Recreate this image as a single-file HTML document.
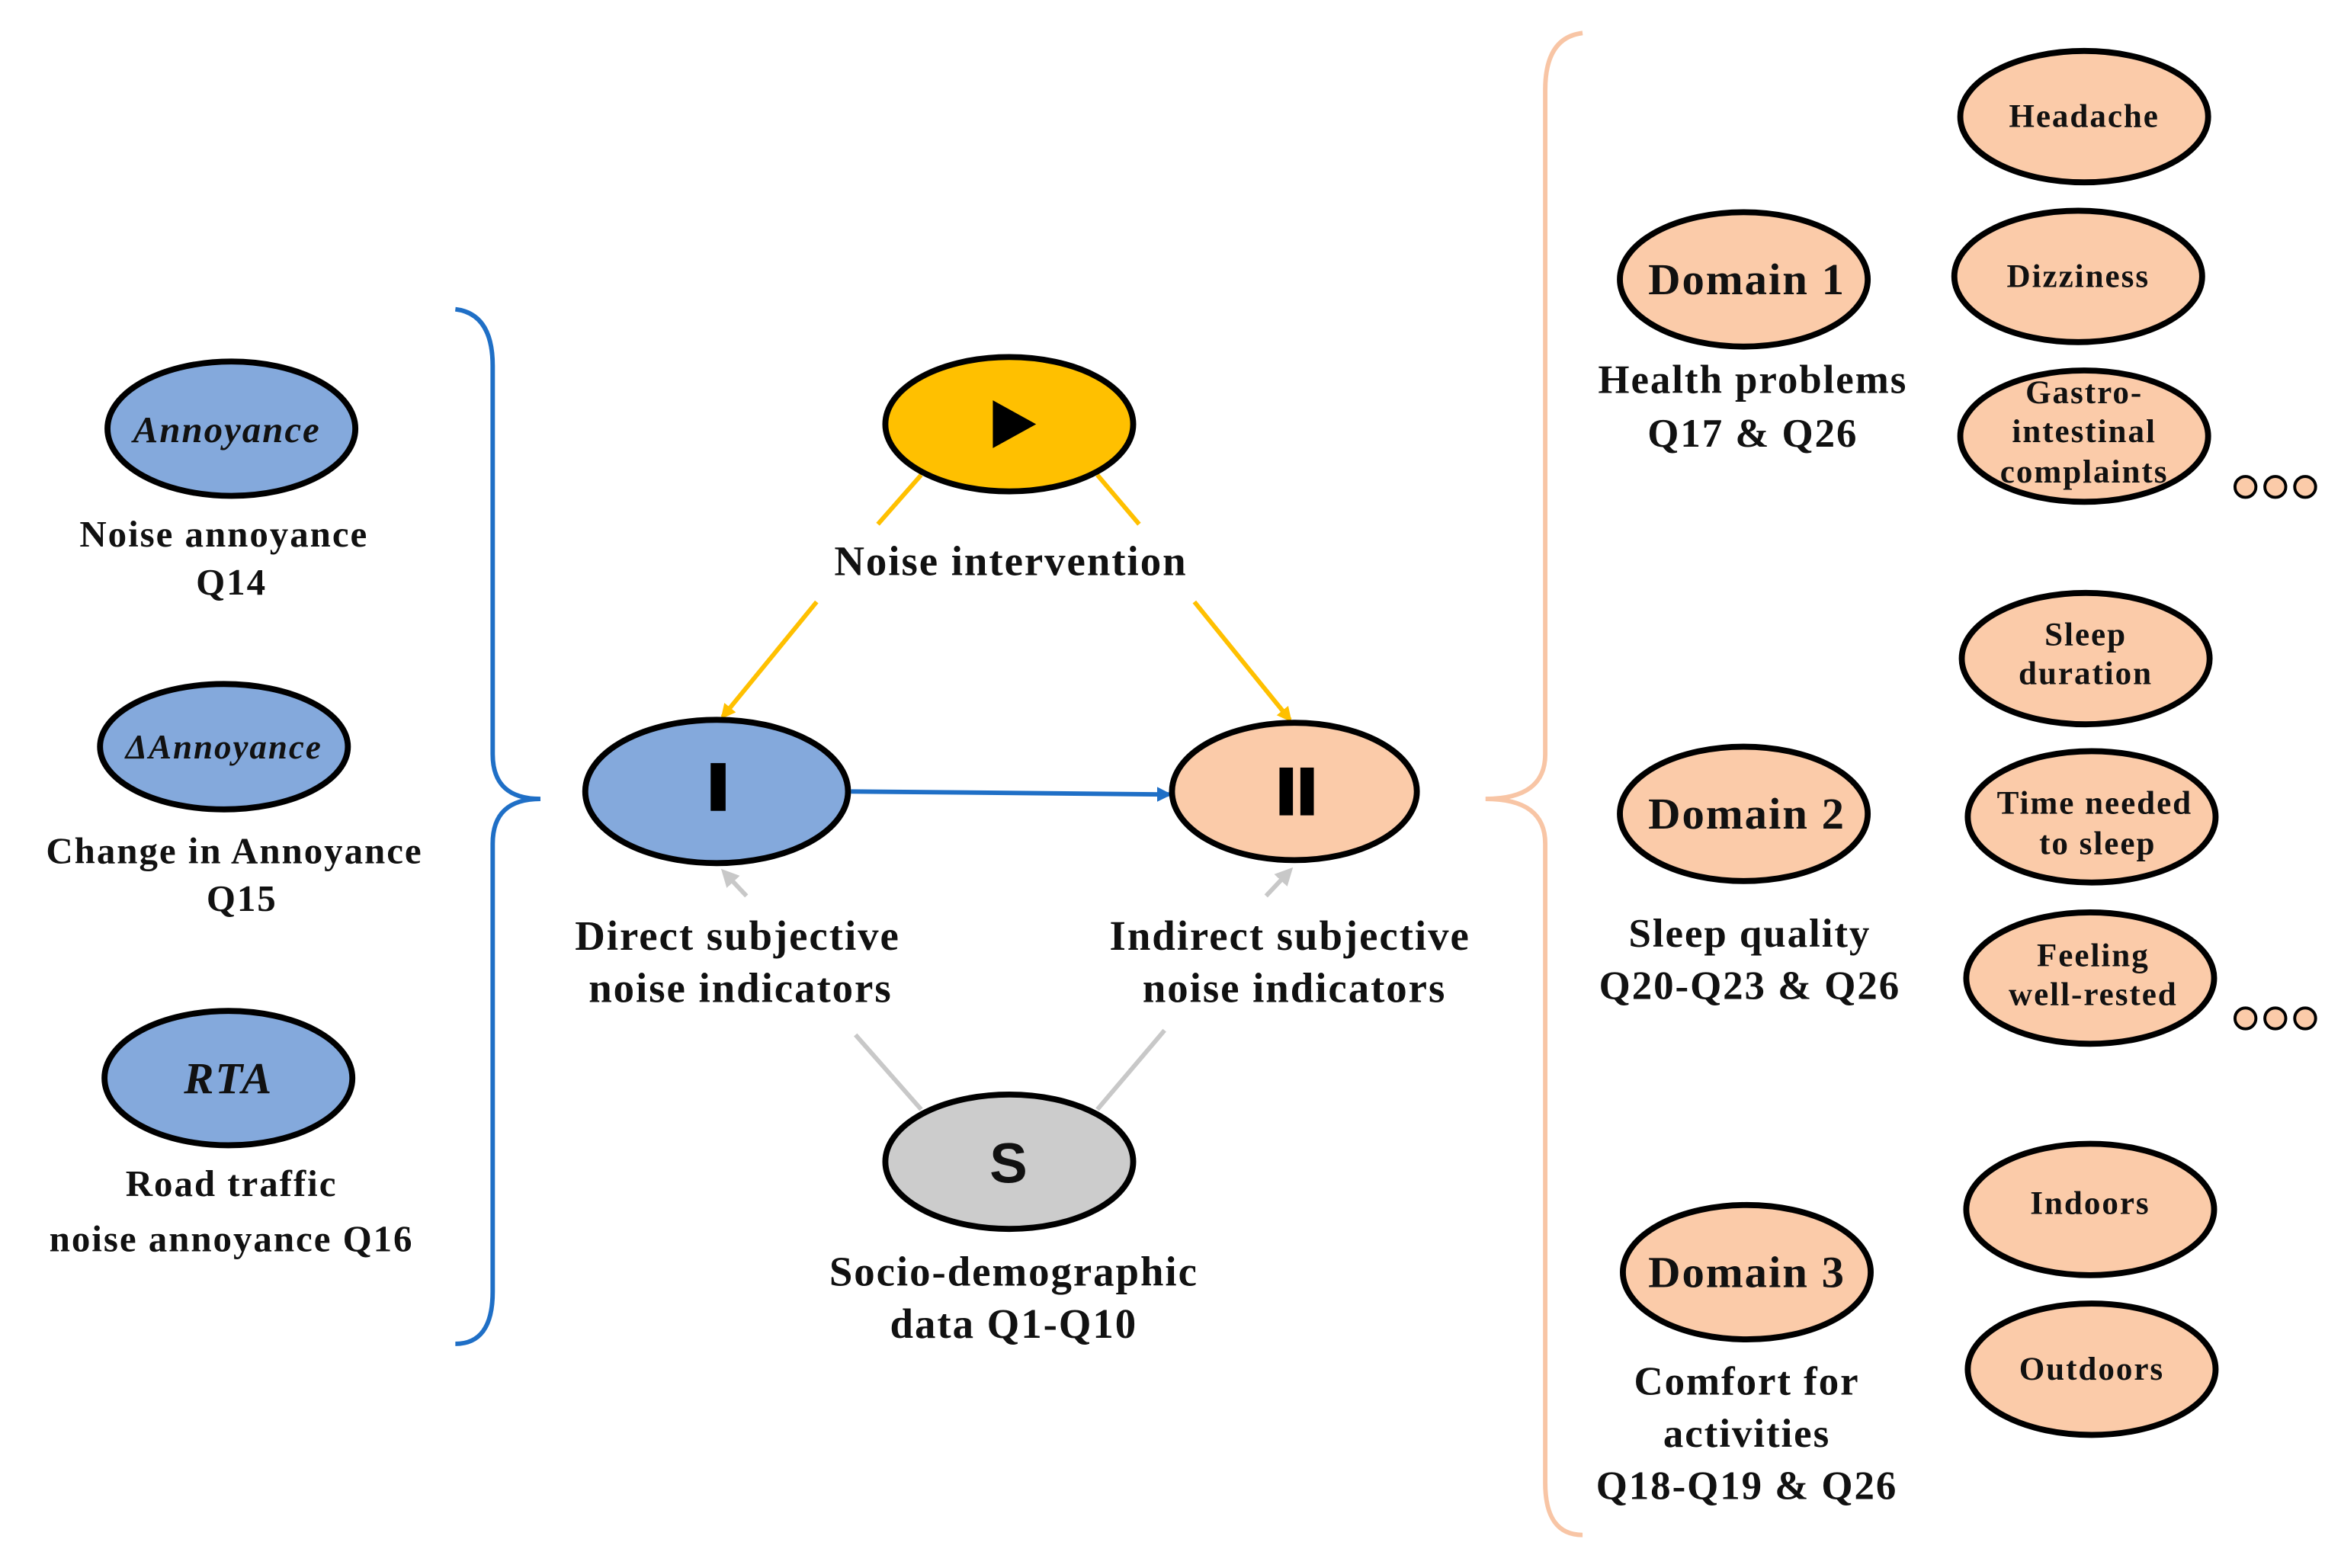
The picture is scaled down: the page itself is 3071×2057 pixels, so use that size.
<!DOCTYPE html>
<html><head><meta charset="utf-8"><style>
html,body{margin:0;padding:0;background:#fff;}
svg{display:block;}
text{font-family:"Liberation Serif",serif;font-weight:bold;fill:#111;text-anchor:middle;letter-spacing:1px;}
</style></head><body>
<svg width="3071" height="2057" viewBox="0 0 1568 1050" xmlns="http://www.w3.org/2000/svg">
<defs>
<marker id="ay" markerWidth="10" markerHeight="10" refX="8" refY="5" orient="auto" markerUnits="userSpaceOnUse"><path d="M0,0 L10,5 L0,10z" fill="#FFC000"/></marker>
<marker id="ab" markerWidth="10" markerHeight="10" refX="8" refY="5" orient="auto" markerUnits="userSpaceOnUse"><path d="M0,0 L10,5 L0,10z" fill="#1F6FC6"/></marker>
<marker id="ag" markerWidth="12" markerHeight="12" refX="9" refY="6" orient="auto" markerUnits="userSpaceOnUse"><path d="M0,0 L12,6 L0,12z" fill="#C8C8C8"/></marker>
</defs>
<g stroke="#000" stroke-width="4">
<ellipse cx="155" cy="287" rx="83" ry="45" fill="#84A9DC"/>
<ellipse cx="150" cy="500" rx="83" ry="42" fill="#84A9DC"/>
<ellipse cx="153" cy="722" rx="83" ry="45" fill="#84A9DC"/>
</g>
<text x="152" y="296" font-size="25" font-style="italic">Annoyance</text>
<text x="150" y="508" font-size="23" font-style="italic">ΔAnnoyance</text>
<text x="153" y="732" font-size="30" font-style="italic" font-weight="normal">RTA</text>
<g font-size="25">
<text x="150" y="366">Noise  annoyance</text>
<text x="155" y="398">Q14</text>
<text x="157" y="578">Change  in  Annoyance</text>
<text x="162" y="610">Q15</text>
<text x="155" y="801">Road traffic</text>
<text x="155" y="838">noise annoyance Q16</text>
</g>
<path d="M305,207 Q330,210 330,245 L330,505 Q330,535 362,535 Q330,535 330,565 L330,865 Q330,900 305,900" fill="none" stroke="#1F6FC6" stroke-width="3"/>
<g stroke="#FFC000" stroke-width="3" fill="none">
<line x1="617" y1="318" x2="588" y2="351"/>
<line x1="735" y1="318" x2="763" y2="351"/>
<line x1="547" y1="403" x2="484" y2="480" marker-end="url(#ay)"/>
<line x1="800" y1="403" x2="864" y2="482" marker-end="url(#ay)"/>
</g>
<g stroke="#C8C8C8" stroke-width="3" fill="none">
<line x1="617" y1="743" x2="573" y2="693"/>
<line x1="735" y1="743" x2="780" y2="690"/>
<line x1="500" y1="600" x2="485" y2="584" marker-end="url(#ag)"/>
<line x1="848" y1="600" x2="864" y2="583" marker-end="url(#ag)"/>
</g>
<line x1="570" y1="530" x2="783" y2="532" stroke="#1F6FC6" stroke-width="3" marker-end="url(#ab)"/>
<g stroke="#000" stroke-width="4">
<ellipse cx="676" cy="284" rx="83" ry="45" fill="#FFC000"/>
<ellipse cx="480" cy="530" rx="88" ry="48" fill="#84A9DC"/>
<ellipse cx="867" cy="530" rx="82" ry="46" fill="#FBCBA9"/>
<ellipse cx="676" cy="778" rx="83" ry="45" fill="#CCCCCC"/>
</g>
<path d="M665,268 L694,284 L665,300z" fill="#000"/>
<rect x="476" y="511" width="10" height="32" fill="#000"/>
<rect x="857" y="514" width="9" height="32" fill="#000"/>
<rect x="871" y="514" width="9" height="32" fill="#000"/>
<text x="676" y="792" font-size="38" style="font-family:'Liberation Sans',sans-serif">S</text>
<g font-size="28">
<text x="677" y="385">Noise intervention</text>
<text x="494" y="636">Direct subjective</text>
<text x="496" y="671">noise indicators</text>
<text x="864" y="636">Indirect subjective</text>
<text x="867" y="671">noise indicators</text>
<text x="679" y="861">Socio-demographic</text>
<text x="679" y="896">data Q1-Q10</text>
</g>
<path d="M1060,22 Q1035,25 1035,60 L1035,505 Q1035,535 995,535 Q1035,535 1035,565 L1035,993 Q1035,1028 1060,1028" fill="none" stroke="#F8C5A5" stroke-width="3"/>
<g stroke="#000" stroke-width="4" fill="#FBCBA9">
<ellipse cx="1168" cy="187" rx="83" ry="45"/>
<ellipse cx="1168" cy="545" rx="83" ry="45"/>
<ellipse cx="1170" cy="852" rx="83" ry="45"/>
<ellipse cx="1396" cy="78" rx="83" ry="44"/>
<ellipse cx="1392" cy="185" rx="83" ry="44"/>
<ellipse cx="1396" cy="292" rx="83" ry="44"/>
<ellipse cx="1397" cy="441" rx="83" ry="44"/>
<ellipse cx="1401" cy="547" rx="83" ry="44"/>
<ellipse cx="1400" cy="655" rx="83" ry="44"/>
<ellipse cx="1400" cy="810" rx="83" ry="44"/>
<ellipse cx="1401" cy="917" rx="83" ry="44"/>
</g>
<g font-size="30">
<text x="1170" y="197">Domain 1</text>
<text x="1170" y="555">Domain 2</text>
<text x="1170" y="862">Domain 3</text>
</g>
<g font-size="27">
<text x="1174" y="263">Health problems</text>
<text x="1174" y="299">Q17 &amp; Q26</text>
<text x="1172" y="634">Sleep quality</text>
<text x="1172" y="669">Q20-Q23 &amp; Q26</text>
<text x="1170" y="934">Comfort for</text>
<text x="1170" y="969">activities</text>
<text x="1170" y="1004">Q18-Q19 &amp; Q26</text>
</g>
<g font-size="22">
<text x="1396" y="85">Headache</text>
<text x="1392" y="192">Dizziness</text>
<text x="1396" y="270">Gastro-</text>
<text x="1396" y="296">intestinal</text>
<text x="1396" y="323">complaints</text>
<text x="1397" y="432">Sleep</text>
<text x="1397" y="458">duration</text>
<text x="1403" y="545">Time needed</text>
<text x="1405" y="572">to sleep</text>
<text x="1402" y="647">Feeling</text>
<text x="1402" y="673">well-rested</text>
<text x="1400" y="813">Indoors</text>
<text x="1401" y="924">Outdoors</text>
</g>
<g fill="#FBCBA9" stroke="#000" stroke-width="2">
<circle cx="1504" cy="326" r="7"/><circle cx="1524" cy="326" r="7"/><circle cx="1544" cy="326" r="7"/>
<circle cx="1504" cy="682" r="7"/><circle cx="1524" cy="682" r="7"/><circle cx="1544" cy="682" r="7"/>
</g>
</svg>
</body></html>
